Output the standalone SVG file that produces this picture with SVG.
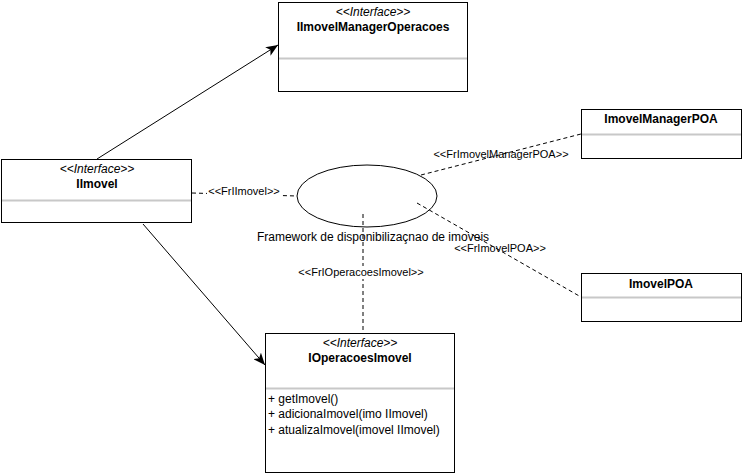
<svg xmlns="http://www.w3.org/2000/svg" width="743" height="476" viewBox="0 0 743 476">
<style>
text{font-family:"Liberation Sans",Arial,sans-serif;fill:#000}
.box{fill:#fff;stroke:#000;stroke-width:1}
.sep{stroke:#c8c8c8;stroke-width:2}
.st{font-size:12px;font-style:italic;text-anchor:middle}
.nm{font-size:12px;font-weight:bold;text-anchor:middle}
.op{font-size:12px}
.lbl{font-size:11px;text-anchor:middle}
.solid{stroke:#000;stroke-width:1;fill:none}
.dash{stroke:#000;stroke-width:1;fill:none;stroke-dasharray:4,3}
.bg{fill:#fff}
</style>
<defs>
<marker id="arr" viewBox="0 0 12 10" refX="12" refY="5" markerWidth="12" markerHeight="10" markerUnits="userSpaceOnUse" orient="auto">
<path d="M0,0 L12,5 L0,10 L3,5 z" fill="#000"/>
</marker>
</defs>
<rect width="743" height="476" fill="#fff"/>
<g id="connectors">
<line class="solid" x1="97" y1="159" x2="278" y2="45" marker-end="url(#arr)"/>
<line class="solid" x1="143" y1="224" x2="265" y2="365" marker-end="url(#arr)"/>
<line class="dash" x1="192" y1="193" x2="297" y2="196"/>
<rect class="bg" x="207" y="185" width="75" height="13"/>
<text class="lbl" x="244" y="195">&lt;&lt;FrIImovel&gt;&gt;</text>
<line class="dash" x1="421" y1="175" x2="581" y2="134"/>
<text class="lbl" x="501" y="158">&lt;&lt;FrImovelManagerPOA&gt;&gt;</text>
<line class="dash" x1="417" y1="203" x2="581" y2="297"/>
<text class="lbl" x="500" y="252">&lt;&lt;FrImovelPOA&gt;&gt;</text>
<line class="dash" x1="363" y1="214" x2="363" y2="333"/>
<rect class="bg" x="297" y="266" width="127" height="13"/>
<text class="lbl" x="361" y="276">&lt;&lt;FrIOperacoesImovel&gt;&gt;</text>
</g>
<g id="framework">
<ellipse cx="367" cy="196" rx="70" ry="31" fill="none" stroke="#000" stroke-width="1"/>
<text x="373" y="241" font-size="12" text-anchor="middle">Framework de disponibilizaçnao de imoveis</text>
</g>
<g id="IImovelManagerOperacoes">
<rect class="box" x="278.5" y="2.5" width="189" height="89"/>
<line class="sep" x1="279" y1="58.5" x2="467" y2="58.5"/>
<text class="st" x="373" y="16">&lt;&lt;Interface&gt;&gt;</text>
<text class="nm" x="373" y="31">IImovelManagerOperacoes</text>
</g>
<g id="IImovel">
<rect class="box" x="1.5" y="159.5" width="190" height="63"/>
<line class="sep" x1="2" y1="200.5" x2="191" y2="200.5"/>
<text class="st" x="97" y="173">&lt;&lt;Interface&gt;&gt;</text>
<text class="nm" x="97" y="188">IImovel</text>
</g>
<g id="IOperacoesImovel">
<rect class="box" x="265.5" y="333.5" width="189" height="139"/>
<line class="sep" x1="266" y1="388.5" x2="454" y2="388.5"/>
<text class="st" x="360" y="347">&lt;&lt;Interface&gt;&gt;</text>
<text class="nm" x="360" y="362">IOperacoesImovel</text>
<text class="op" x="268" y="403">+ getImovel()</text>
<text class="op" x="268" y="418">+ adicionaImovel(imo IImovel)</text>
<text class="op" x="268" y="434">+ atualizaImovel(imovel IImovel)</text>
</g>
<g id="ImovelManagerPOA">
<rect class="box" x="581.5" y="109.5" width="160" height="49"/>
<line class="sep" x1="582" y1="134.5" x2="741" y2="134.5"/>
<text class="nm" x="661" y="123">ImovelManagerPOA</text>
</g>
<g id="ImovelPOA">
<rect class="box" x="581.5" y="273.5" width="160" height="48"/>
<line class="sep" x1="582" y1="297.5" x2="741" y2="297.5"/>
<text class="nm" x="661" y="288">ImovelPOA</text>
</g>
</svg>
